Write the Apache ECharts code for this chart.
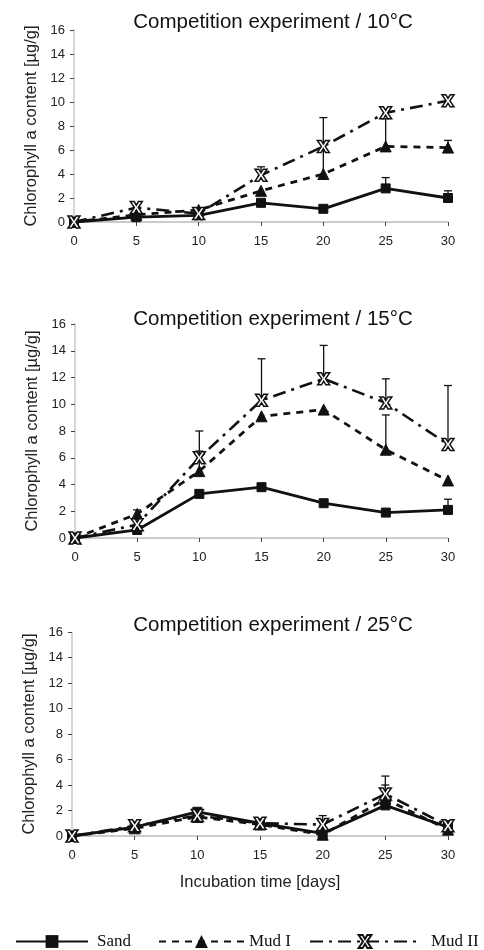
<!DOCTYPE html>
<html><head><meta charset="utf-8">
<script src="https://cdn.jsdelivr.net/npm/echarts@6/dist/echarts.min.js"></script>
<style>html,body{margin:0;padding:0;background:#fff}#c{width:484px;height:950px}</style>
</head><body><div id="c"></div>
<script>
const days = [0, 5, 10, 15, 20, 25, 30];
const yTicks = [0, 2, 4, 6, 8, 10, 12, 14, 16];
const titles = ['Competition experiment / 10°C', 'Competition experiment / 15°C', 'Competition experiment / 25°C'];
const seriesNames = ['Sand', 'Mud I', 'Mud II'];

// 10 °C
const sand10 = [0, 0.4, 0.55, 1.6, 1.1, 2.8, 2.0];
const mud1_10 = [0, 0.6, 1.0, 2.6, 4.0, 6.3, 6.2];
const mud2_10 = [0, 1.2, 0.7, 3.9, 6.3, 9.1, 10.1];
const sand10Err = [null, null, null, null, null, 3.7, 2.6];
const mud1_10Err = [null, null, null, null, 8.7, 8.6, 6.8];
const mud2_10Err = [null, null, null, 4.6, null, null, null];

// 15 °C
const sand15 = [0, 0.6, 3.3, 3.8, 2.6, 1.9, 2.1];
const mud1_15 = [0, 1.8, 5.0, 9.1, 9.6, 6.6, 4.3];
const mud2_15 = [0, 1.0, 6.0, 10.3, 11.9, 10.1, 7.0];
const sand15Err = [null, null, null, null, null, null, 2.9];
const mud1_15Err = [null, 2.1, 6.5, null, null, 9.2, null];
const mud2_15Err = [null, null, 8.0, 13.4, 14.4, 11.9, 11.4];

// 25 °C
const sand25 = [0, 0.7, 1.9, 1.0, 0.2, 2.4, 0.7];
const mud1_25 = [0, 0.6, 1.5, 0.9, 0.1, 2.9, 0.5];
const mud2_25 = [0, 0.8, 1.6, 1.0, 0.9, 3.3, 0.8];
const sand25Err = [null, null, null, null, null, null, null];
const mud1_25Err = [null, null, null, null, null, 4.0, null];
const mud2_25Err = [null, 1.1, null, 1.3, 1.6, 4.7, 1.2];

const panels = [
  {vals: [sand10, mud1_10, mud2_10], errs: [sand10Err, mud1_10Err, mud2_10Err]},
  {vals: [sand15, mud1_15, mud2_15], errs: [sand15Err, mud1_15Err, mud2_15Err]},
  {vals: [sand25, mud1_25, mud2_25], errs: [sand25Err, mud1_25Err, mud2_25Err]}
];

const grids = [
  {left: 74, top: 30, width: 374, height: 192},
  {left: 75, top: 324, width: 373, height: 214},
  {left: 72, top: 632, width: 376, height: 204}
];
const titleTops = [7, 304, 610];
const legendLayout = [
  {left: 10, itemWidth: 72, pad: 4},
  {left: 153, itemWidth: 85, pad: 0},
  {left: 304, itemWidth: 110, pad: 6}
];

const xMark = 'path://M0,0 L3.2,0 L5,3 L6.8,0 L10,0 L6.6,5 L10,10 L6.8,10 L5,7 L3.2,10 L0,10 L3.4,5 Z';
const styles = [
  {symbol: 'rect', symbolSize: 9, line: {type: 'solid', width: 2.8}, item: {color: '#111', borderColor: '#111'}},
  {symbol: 'triangle', symbolSize: 11, line: {type: [7, 6], width: 2.8}, item: {color: '#111', borderColor: '#111'}},
  {symbol: xMark, symbolSize: 12, line: {type: [13, 6, 3, 6], width: 2.6}, item: {color: '#fff', borderColor: '#111', borderWidth: 1.5}}
];

const FONT = 'Liberation Sans, Arial, sans-serif';
const option = {
  animation: false,
  backgroundColor: '#fff',
  title: titles.map((t, i) => ({
    text: t, left: 268, top: titleTops[i], textAlign: 'center',
    textStyle: {fontFamily: FONT, fontSize: 20.5, fontWeight: 'normal', color: '#111'}
  })),
  legend: seriesNames.map((n, i) => ({
    data: [n], top: 928, left: legendLayout[i].left,
    itemWidth: legendLayout[i].itemWidth, itemHeight: 16, itemGap: 0,
    textStyle: {fontFamily: 'Liberation Serif, Times New Roman, serif', fontSize: 17, color: '#111', padding: [0, 0, 0, legendLayout[i].pad]}
  })),
  grid: grids,
  xAxis: grids.map((g, i) => ({
    type: 'value', gridIndex: i, min: 0, max: 30, interval: 5,
    name: i === 2 ? 'Incubation time [days]' : '',
    nameLocation: 'middle', nameGap: 38,
    nameTextStyle: {fontFamily: FONT, fontSize: 16.5, color: '#222'},
    axisLine: {lineStyle: {color: '#bbb', width: 1.5}},
    axisTick: {lineStyle: {color: '#444'}, length: 4},
    axisLabel: {fontFamily: FONT, fontSize: 13, color: '#222', margin: 13},
    splitLine: {show: false}
  })),
  yAxis: grids.map((g, i) => ({
    type: 'value', gridIndex: i, min: yTicks[0], max: yTicks[yTicks.length - 1], interval: 2,
    name: 'Chlorophyll a content [µg/g]',
    nameLocation: 'middle', nameGap: 32, nameRotate: 90,
    nameTextStyle: {fontFamily: FONT, fontSize: 16.5, color: '#222'},
    axisLine: {show: true, lineStyle: {color: '#c8c8c8', width: 1.5}},
    axisTick: {show: true, lineStyle: {color: '#444'}, length: 4},
    axisLabel: {fontFamily: FONT, fontSize: 13, color: '#222', margin: 9},
    splitLine: {show: false}
  })),
  series: []
};

panels.forEach((p, gi) => {
  p.vals.forEach((vals, si) => {
    const st = styles[si];
    const errData = [];
    p.errs[si].forEach((top, k) => { if (top !== null) errData.push([days[k], vals[k], top]); });
    if (errData.length) {
      option.series.push({
        type: 'custom', xAxisIndex: gi, yAxisIndex: gi, z: 1, silent: true,
        data: errData,
        renderItem: function (params, api) {
          const a = api.coord([api.value(0), api.value(1)]);
          const b = api.coord([api.value(0), api.value(2)]);
          const s = {stroke: '#111', lineWidth: 1.3};
          return {type: 'group', children: [
            {type: 'line', shape: {x1: a[0], y1: a[1], x2: b[0], y2: b[1]}, style: s},
            {type: 'line', shape: {x1: b[0] - 4, y1: b[1], x2: b[0] + 4, y2: b[1]}, style: s}
          ]};
        }
      });
    }
    option.series.push({
      name: seriesNames[si], type: 'line', xAxisIndex: gi, yAxisIndex: gi, z: 3,
      data: days.map((d, k) => [d, vals[k]]),
      symbol: st.symbol, symbolSize: st.symbolSize, showSymbol: true,
      lineStyle: Object.assign({color: '#111'}, st.line),
      itemStyle: st.item
    });
  });
});

const chart = echarts.init(document.getElementById('c'), null, {renderer: 'canvas'});
chart.setOption(option);
</script>
</body></html>
